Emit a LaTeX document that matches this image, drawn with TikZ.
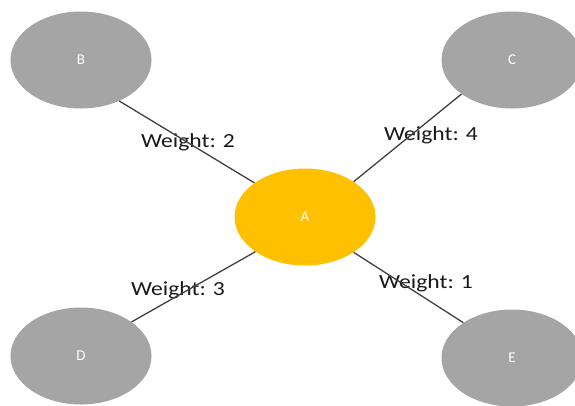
\documentclass[tikz,border=0pt]{standalone}
\usepackage{fontspec}
\setmainfont{Carlito}
\usetikzlibrary{shapes.geometric}
\definecolor{nodegray}{HTML}{A5A5A5}
\definecolor{nodeorange}{HTML}{FFC000}
\definecolor{edgegray}{HTML}{404040}
\begin{document}
\begin{tikzpicture}[x=1pt,y=-1pt,
  vertex/.style={ellipse, fill=nodegray, minimum width=141pt, minimum height=97pt,
    inner sep=0pt, text=white, font=\fontsize{15}{17}\selectfont},
  hub/.style={vertex, fill=nodeorange},
  edge/.style={draw=edgegray, line width=1.3pt},
  weight/.style={font=\fontsize{20}{23}\selectfont, text=black!90, inner sep=0pt,
    xscale=1.18, transform shape}]
  \useasboundingbox (0,0) rectangle (575,405);
  \begin{scope}
    \clip (0,0) rectangle (575,405);
    \node[hub]    (A) at (305,217) {A};
    \node[vertex] (B) at (81,60)   {B};
    \node[vertex] (C) at (512,60)  {C};
    \node[vertex] (D) at (81,356)  {D};
    \node[vertex] (E) at (512,358) {E};
  \end{scope}
  \node[weight] (w2) at (188,142) {Weight: 2};
  \node[weight] (w4) at (431,135) {Weight: 4};
  \node[weight] (w3) at (178,290) {Weight: 3};
  \node[weight] (w1) at (426,283) {Weight: 1};
  \draw[edge] (B.-47)  -- (A.146);
  \draw[edge] (C.-146) -- (A.36);
  \draw[edge] (D.34)   -- (A.-145);
  \draw[edge] (E.144)  -- (A.-36);
\end{tikzpicture}
\end{document}
